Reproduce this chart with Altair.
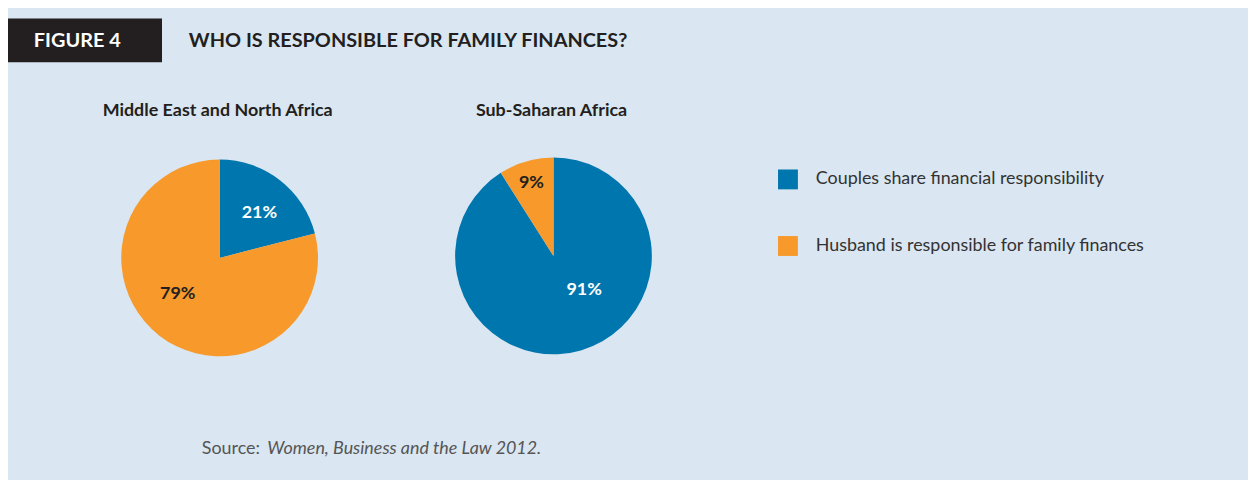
import altair as alt
import pandas as pd

# ---- data ----
regions = ["Middle East and North Africa", "Sub-Saharan Africa"]
categories = ["Couples share financial responsibility",
              "Husband is responsible for family finances"]
mena_values = [21, 79]
ssa_values = [91, 9]

rows = []
for reg, vals in zip(regions, [mena_values, ssa_values]):
    for i, (c, v) in enumerate(zip(categories, vals)):
        rows.append({"region": reg, "category": c, "value": v, "order": i})
df = pd.DataFrame(rows)

BLUE = "#0076ae"
ORANGE = "#f7992b"
DARK = "#231f20"
BG = "#dae6f1"
FONT = "Lato"

base = alt.Chart(df)

legend = alt.Legend(orient="none", legendX=775, legendY=161, title=None,
                    symbolType="square", symbolSize=400, symbolStrokeWidth=0,
                    labelFont=FONT, labelFontSize=18, labelColor="#333333",
                    labelOffset=18, rowPadding=47, padding=0, labelLimit=600)
color = alt.Color("category:N", scale=alt.Scale(domain=categories, range=[BLUE, ORANGE]),
                  legend=legend)


def pie(reg, cx, cy):
    return base.transform_filter(alt.datum.region == reg).mark_arc(radius=99).encode(
        x=alt.value(cx), y=alt.value(cy),
        theta=alt.Theta("value:Q", stack=True, scale=alt.Scale(domain=[0, 100])),
        color=color,
        order=alt.Order("order:Q"),
    )


def label(reg, cat, cx, cy, r, dx, dy, col):
    return (base.transform_filter(alt.datum.region == reg)
            .transform_window(cum="sum(value)", sort=[alt.SortField("order")], frame=[None, 0])
            .transform_calculate(mid="datum.cum - datum.value / 2", txt="datum.value + '%'")
            .transform_filter(alt.datum.category == cat)
            .mark_text(radius=r, dx=dx, dy=dy, font=FONT, fontWeight="bold", fontSize=18, color=col)
            .encode(x=alt.value(cx), y=alt.value(cy),
                    theta=alt.Theta("mid:Q", stack=None, scale=alt.Scale(domain=[0, 100])),
                    text="txt:N"))


def txt(s, x, y, size, weight="normal", col=DARK, align="left", style="normal"):
    return alt.Chart(pd.DataFrame({"t": [s]})).mark_text(
        font=FONT, fontSize=size, fontWeight=weight, color=col, align=align,
        baseline="middle", fontStyle=style).encode(
        x=alt.value(x), y=alt.value(y), text="t:N")


box = alt.Chart(pd.DataFrame({"a": [0]})).mark_rect(color=DARK).encode(
    x=alt.value(0), x2=alt.value(155), y=alt.value(9), y2=alt.value(53))

cx1, cy1 = 213, 250
cx2, cy2 = 549, 248

chart = alt.layer(
    box,
    txt("FIGURE 4", 26, 32, 20, "bold", "white"),
    txt("WHO IS RESPONSIBLE FOR FAMILY FINANCES?", 182, 32, 20, "bold"),
    txt(regions[0], 211, 102, 18, "bold", align="center"),
    txt(regions[1], 547, 102, 18, "bold", align="center"),
    pie(regions[0], cx1, cy1),
    pie(regions[1], cx2, cy2),
    label(regions[0], categories[0], cx1, cy1, 62, 2, 4, "white"),
    label(regions[0], categories[1], cx1, cy1, 54, -9, -6, DARK),
    label(regions[1], categories[0], cx2, cy2, 46, 18, -10, "white"),
    label(regions[1], categories[1], cx2, cy2, 76, -1, 0, DARK),
    txt("Source:", 195, 442, 18, col="#555555"),
    txt("Women, Business and the Law 2012.", 261, 442, 18, col="#555555", style="italic"),
).properties(
    width=1248, height=472, background=BG, padding=0,
    autosize=alt.AutoSizeParams(type="none"),
).configure_view(stroke=None)

chart.save("out.html", embed_options={"renderer": "svg", "actions": False})
